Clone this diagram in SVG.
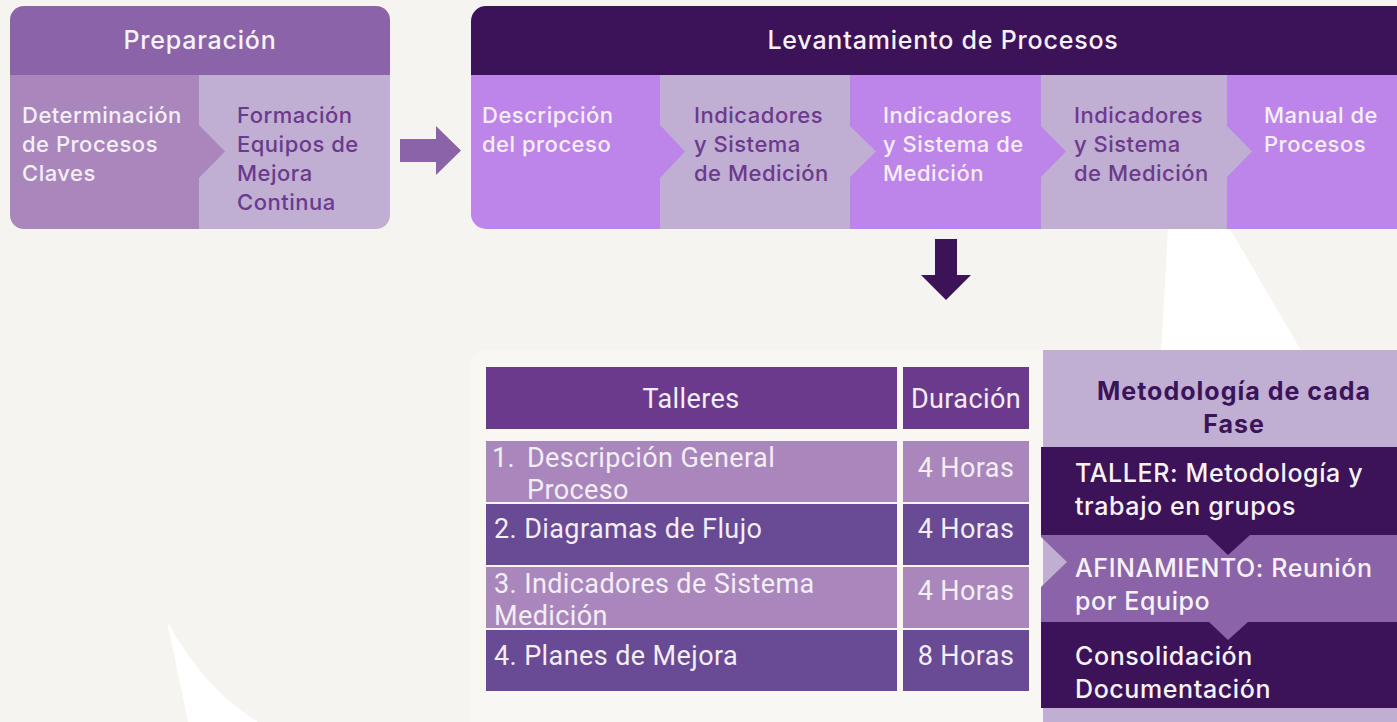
<svg xmlns="http://www.w3.org/2000/svg" width="1397" height="722" viewBox="0 0 1397 722">
<defs>
<style>
.t{font-family:Inter,"Noto Sans","Liberation Sans",sans-serif;font-weight:500;}
.hd{font-size:25px;letter-spacing:0.8px;fill:#f7f2f7;text-anchor:middle;}
.cw{font-size:22px;letter-spacing:0.5px;fill:#f6eef6;}
.cd{font-size:22px;letter-spacing:0.5px;fill:#6b3a8c;}
.tb{font-family:Roboto,"Liberation Sans",sans-serif;font-size:27px;letter-spacing:0.4px;fill:#f3eef5;}
.mid{text-anchor:middle;}
.mw{font-size:25px;letter-spacing:0.6px;fill:#f7f2f7;}
.mt{font-size:25px;font-weight:700;letter-spacing:1px;fill:#3c1259;text-anchor:middle;}
.violet{fill:#bd85e9;}
.lilac{fill:#c0aed3;}
.dark{fill:#3c1259;}
.mauve{fill:#8b63a8;}
.soft{fill:#a987bd;}
.row2{fill:#684a95;}
.thead{fill:#6c3a8c;}
</style>
<clipPath id="clipPrep"><rect x="10" y="6" width="380" height="223" rx="14"/></clipPath>
<clipPath id="clipLev"><rect x="471" y="6" width="960" height="223" rx="15"/></clipPath>
</defs>
<rect x="0" y="0" width="1397" height="722" fill="#f5f4f0"/>
<g id="decor">
<polygon points="1168,229 1230,229 1302,352 1161,352" fill="#ffffff"/>
<path d="M167,621 Q205,690 258,722 L188,722 Z" fill="#ffffff"/>
</g>

<g id="preparacion">
<g clip-path="url(#clipPrep)">
<rect x="10" y="6" width="380" height="69" class="mauve"/>
<rect x="199" y="75" width="191" height="154" class="lilac"/>
<polygon points="10,75 199,75 199,125 225,151.5 199,178 199,229 10,229" class="soft"/>
</g>
<text class="t hd" x="200" y="49">Preparación</text>
<text class="t cw" x="22" y="123">Determinación</text>
<text class="t cw" x="22" y="152">de Procesos</text>
<text class="t cw" x="22" y="181">Claves</text>
<text class="t cd" x="237" y="123">Formación</text>
<text class="t cd" x="237" y="152">Equipos de</text>
<text class="t cd" x="237" y="181">Mejora</text>
<text class="t cd" x="237" y="210">Continua</text>
</g>

<g id="levantamiento">
<g clip-path="url(#clipLev)">
<rect x="471" y="6" width="960" height="69" class="dark"/>
<rect x="1227" y="75" width="200" height="154" class="violet"/>
<polygon points="1041,75 1227,75 1227,126 1252,151.5 1227,177 1227,229 1041,229" class="lilac"/>
<polygon points="850,75 1041,75 1041,126 1066,151.5 1041,177 1041,229 850,229" class="violet"/>
<polygon points="660,75 850,75 850,126 876,151.5 850,177 850,229 660,229" class="lilac"/>
<polygon points="471,75 660,75 660,125 685,151.5 660,178 660,229 471,229" class="violet"/>
</g>
<text class="t hd" x="943" y="49">Levantamiento de Procesos</text>
<text class="t cw" x="482" y="123">Descripción</text>
<text class="t cw" x="482" y="152">del proceso</text>
<text class="t cd" x="694" y="123">Indicadores</text>
<text class="t cd" x="694" y="152">y Sistema</text>
<text class="t cd" x="694" y="181">de Medición</text>
<text class="t cw" x="883" y="123">Indicadores</text>
<text class="t cw" x="883" y="152">y Sistema de</text>
<text class="t cw" x="883" y="181">Medición</text>
<text class="t cd" x="1074" y="123">Indicadores</text>
<text class="t cd" x="1074" y="152">y Sistema</text>
<text class="t cd" x="1074" y="181">de Medición</text>
<text class="t cw" x="1264" y="123">Manual de</text>
<text class="t cw" x="1264" y="152">Procesos</text>
</g>

<g id="connectors">
<polygon points="400,139 436,139 436,126 461,150.5 436,175 436,162 400,162" class="mauve"/>
<polygon points="935,239 957,239 957,275 971,275 946,300 921,275 935,275" class="dark"/>
</g>

<g id="talleres">
<rect x="470" y="350" width="620" height="420" rx="16" fill="#f8f7f3"/>
<rect x="486" y="367" width="411" height="62" class="thead"/>
<rect x="903" y="367" width="126" height="62" class="thead"/>
<rect x="486" y="441" width="411" height="61" class="soft"/>
<rect x="903" y="441" width="126" height="61" class="soft"/>
<rect x="486" y="504" width="411" height="61" class="row2"/>
<rect x="903" y="504" width="126" height="61" class="row2"/>
<rect x="486" y="567" width="411" height="61" class="soft"/>
<rect x="903" y="567" width="126" height="61" class="soft"/>
<rect x="486" y="630" width="411" height="61" class="row2"/>
<rect x="903" y="630" width="126" height="61" class="row2"/>
<text class="tb mid" x="691" y="408">Talleres</text>
<text class="tb mid" x="966" y="408">Duración</text>
<text class="tb" x="492" y="467">1.</text>
<text class="tb" x="527" y="467">Descripción General</text>
<text class="tb" x="527" y="499">Proceso</text>
<text class="tb mid" x="966" y="477">4 Horas</text>
<text class="tb" x="494" y="538">2. Diagramas de Flujo</text>
<text class="tb mid" x="966" y="538">4 Horas</text>
<text class="tb" x="494" y="593">3. Indicadores de Sistema</text>
<text class="tb" x="494" y="625">Medición</text>
<text class="tb mid" x="966" y="600">4 Horas</text>
<text class="tb" x="494" y="665">4. Planes de Mejora</text>
<text class="tb mid" x="966" y="665">8 Horas</text>
</g>

<g id="metodologia">
<rect x="1043" y="350" width="360" height="380" class="lilac"/>
<rect x="1041" y="447" width="360" height="88" class="dark"/>
<polygon points="1041,535 1401,535 1401,622 1041,622 1041,587 1067,562 1041,537" class="mauve"/>
<polygon points="1207,535 1250,535 1228,555" class="dark"/>
<rect x="1041" y="622" width="360" height="86" class="dark"/>
<polygon points="1209,622 1248,622 1228,640" class="mauve"/>
<text class="t mt" x="1234" y="400">Metodología de cada</text>
<text class="t mt" x="1234" y="433">Fase</text>
<text class="t mw" x="1075" y="482">TALLER: Metodología y</text>
<text class="t mw" x="1075" y="515">trabajo en grupos</text>
<text class="t mw" x="1075" y="577">AFINAMIENTO: Reunión</text>
<text class="t mw" x="1075" y="610">por Equipo</text>
<text class="t mw" x="1075" y="665">Consolidación</text>
<text class="t mw" x="1075" y="698">Documentación</text>
</g>
</svg>
